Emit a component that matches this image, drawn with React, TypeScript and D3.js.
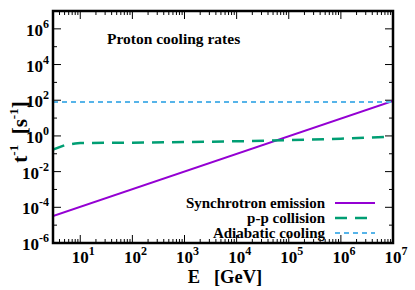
import { scaleLog, line } from "d3";

const energies = [3, 1e7];
const synchrotron = [3.2e-5, 9e1];
const adiabatic = [8e1, 8e1];
const ppEnergies = [3, 5, 8, 10, 100, 1e3, 1e4, 1e5, 1e6, 1e7];
const ppCollision = [0.17, 0.3, 0.38, 0.4, 0.42, 0.45, 0.5, 0.58, 0.7, 0.9];
const xTickPowers = [1, 2, 3, 4, 5, 6, 7];
const yTickPowers = [-6, -4, -2, 0, 2, 4, 6];
const legendNames = ["Synchrotron emission", "p-p collision", "Adiabatic cooling"];

const W = 415;
const H = 290;
const left = 53;
const right = 393;
const top = 11;
const bottom = 243;
const font = "'Liberation Serif', 'Times New Roman', serif";

const colors = ["#9400d3", "#009e73", "#56b4e9"];
const dashes = ["none", "12,8", "5,4"];

const App = () => {
  const x = scaleLog().domain([3, 1e7]).range([left, right]);
  const y = scaleLog().domain([1e-6, 1e7]).range([bottom, top]);

  const path = line<[number, number]>()
    .x((d) => x(d[0]))
    .y((d) => y(d[1]));

  const series: [number, number][][] = [
    energies.map((e, i) => [e, synchrotron[i]]),
    ppEnergies.map((e, i) => [e, ppCollision[i]]),
    energies.map((e, i) => [e, adiabatic[i]]),
  ];

  // minor ticks: 2..9 each decade on x, every odd decade on y
  const xMinor: number[] = [];
  for (let p = 0; p < 7; p++) {
    for (let m = 2; m < 10; m++) {
      const v = m * Math.pow(10, p);
      if (v >= 3 && v <= 1e7) xMinor.push(v);
    }
  }
  const yMinor: number[] = [];
  for (let p = -5; p <= 7; p += 2) yMinor.push(Math.pow(10, p));

  return (
    <svg
      width={W}
      height={H}
      style={{ position: "absolute", left: 0, top: 0, background: "#fff", fontFamily: font, fontWeight: "bold" }}
    >
      <defs>
        <clipPath id="plot">
          <rect x={left} y={top} width={right - left} height={bottom - top} />
        </clipPath>
      </defs>

      {/* ticks */}
      <g stroke="#000" strokeWidth={1}>
        {xTickPowers.map((p) => {
          const px = x(Math.pow(10, p));
          return (
            <g key={"xt" + p}>
              <line x1={px} x2={px} y1={bottom} y2={bottom - 8} />
              <line x1={px} x2={px} y1={top} y2={top + 8} />
            </g>
          );
        })}
        {xMinor.map((v, i) => {
          const px = x(v);
          return (
            <g key={"xm" + i}>
              <line x1={px} x2={px} y1={bottom} y2={bottom - 4} />
              <line x1={px} x2={px} y1={top} y2={top + 4} />
            </g>
          );
        })}
        {yTickPowers.map((p) => {
          const py = y(Math.pow(10, p));
          return (
            <g key={"yt" + p}>
              <line x1={left} x2={left + 8} y1={py} y2={py} />
              <line x1={right} x2={right - 8} y1={py} y2={py} />
            </g>
          );
        })}
        {yMinor.map((v, i) => {
          const py = y(v);
          return (
            <g key={"ym" + i}>
              <line x1={left} x2={left + 4} y1={py} y2={py} />
              <line x1={right} x2={right - 4} y1={py} y2={py} />
            </g>
          );
        })}
      </g>

      {/* series */}
      <g clipPath="url(#plot)" fill="none">
        {series.map((s, i) => (
          <path
            key={i}
            d={path(s) || ""}
            stroke={colors[i]}
            strokeWidth={i === 1 ? 2.5 : 2}
            strokeDasharray={dashes[i]}
          />
        ))}
      </g>

      <rect
        x={left}
        y={top}
        width={right - left}
        height={bottom - top}
        fill="none"
        stroke="#000"
        strokeWidth={2.5}
      />

      {/* tick labels */}
      {xTickPowers.map((p) => (
        <text key={"xl" + p} x={x(Math.pow(10, p)) + 3} y={263} fontSize={17} textAnchor="middle">
          10<tspan fontSize={12} dy={-8}>{p}</tspan>
        </text>
      ))}
      {yTickPowers.map((p) => (
        <text key={"yl" + p} x={49} y={y(Math.pow(10, p)) + 7} fontSize={17} textAnchor="end">
          10<tspan fontSize={12} dy={-8}>{p < 0 ? "-" + Math.abs(p) : p}</tspan>
        </text>
      ))}

      <text x={107} y={44} fontSize={15.5}>Proton cooling rates</text>

      <text x={225} y={283} fontSize={18.5} textAnchor="middle">
        E{"\u00a0\u00a0\u00a0"}[GeV]
      </text>

      <text transform="translate(27,132) rotate(-90)" fontSize={21} textAnchor="middle">
        t<tspan fontSize={13} dy={-9}>-1</tspan>
        <tspan dy={9}>{"\u00a0\u00a0"}[s</tspan>
        <tspan fontSize={13} dy={-9}>-1</tspan>
        <tspan dy={9}>]</tspan>
      </text>

      {/* legend */}
      {legendNames.map((name, i) => {
        const ly = 203 + i * 15;
        return (
          <g key={name}>
            <text x={325} y={ly + 5} fontSize={15} textAnchor="end">
              {name}
            </text>
            <line
              x1={335}
              x2={375}
              y1={ly}
              y2={ly}
              stroke={colors[i]}
              strokeWidth={i === 1 ? 2.5 : 2}
              strokeDasharray={dashes[i]}
            />
          </g>
        );
      })}
    </svg>
  );
};

export default App;
